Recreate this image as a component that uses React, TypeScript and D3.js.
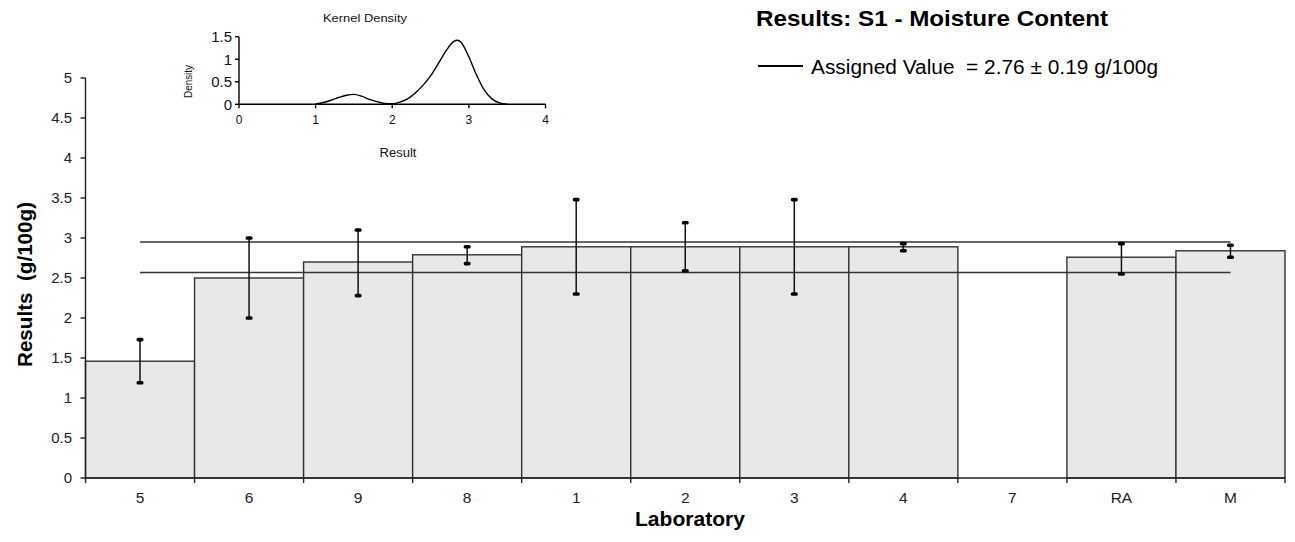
import React from "react";
import * as d3 from "d3";

const labs = ["5", "6", "9", "8", "1", "2", "3", "4", "7", "RA", "M"];
const results: (number | null)[] = [1.46, 2.5, 2.7, 2.79, 2.89, 2.89, 2.89, 2.89, null, 2.76, 2.84];
const errLow: (number | null)[] = [1.19, 2.0, 2.28, 2.68, 2.3, 2.59, 2.3, 2.84, null, 2.55, 2.76];
const errHigh: (number | null)[] = [1.73, 3.0, 3.1, 2.89, 3.48, 3.19, 3.48, 2.93, null, 2.93, 2.91];
const assignedValue = 2.76;
const uncertainty = 0.19;
const yTicks = [0, 0.5, 1, 1.5, 2, 2.5, 3, 3.5, 4, 4.5, 5];

const densityX = [1.0, 1.1, 1.2, 1.3, 1.4, 1.5, 1.6, 1.7, 1.8, 1.9, 2.0, 2.1, 2.2, 2.3, 2.4, 2.5, 2.6, 2.7, 2.8, 2.85, 2.9, 3.0, 3.1, 3.2, 3.3, 3.4, 3.5];
const densityY = [0.01, 0.04, 0.09, 0.15, 0.2, 0.22, 0.18, 0.11, 0.06, 0.02, 0.015, 0.05, 0.12, 0.25, 0.42, 0.63, 0.9, 1.18, 1.39, 1.42, 1.37, 1.05, 0.65, 0.32, 0.12, 0.03, 0.0];
const insetXTicks = [0, 1, 2, 3, 4];
const insetYTicks = [0, 0.5, 1, 1.5];

const FONT = "'Liberation Sans', Arial, sans-serif";

export default function App() {
  const W = 1295, H = 542;
  const x0 = 85.5, x1 = 1285;
  const y0 = 478, y1 = 78;
  const x = d3.scaleBand<string>().domain(labs).range([x0, x1]).paddingInner(0).paddingOuter(0);
  const y = d3.scaleLinear().domain([0, 5]).range([y0, y1]);
  const bw = x.bandwidth();

  // inset
  const ix = d3.scaleLinear().domain([0, 4]).range([239, 545.5]);
  const iy = d3.scaleLinear().domain([0, 1.5]).range([104.3, 36.7]);
  const pts = densityX.map((v, i) => [v, densityY[i]] as [number, number]);
  const densityPath = d3
    .line<[number, number]>()
    .x((d) => ix(d[0]))
    .y((d) => iy(d[1]))
    .curve(d3.curveMonotoneX)(pts) as string;

  const cx = (l: string) => (x(l) as number) + bw / 2;
  const lineStart = cx(labs[0]);
  const lineEnd = cx(labs[labs.length - 1]);

  const legendText =
    "Assigned Value\u00A0\u00A0= " + assignedValue.toFixed(2) + " \u00B1 " + uncertainty.toFixed(2) + " g/100g";

  return (
    <svg width={W} height={H} style={{ position: "absolute", left: 0, top: 0, background: "#fff" }} fontFamily={FONT}>
      <rect x={0} y={0} width={W} height={H} fill="#fff" />
      {/* bars */}
      {labs.map((l, i) =>
        results[i] == null ? null : (
          <rect key={"b" + l} x={x(l)} y={y(results[i] as number)} width={bw} height={y0 - y(results[i] as number)} fill="#e8e8e8" stroke="#333" strokeWidth={1.4} />
        )
      )}
      {/* assigned value +/- uncertainty lines */}
      {[assignedValue + uncertainty, assignedValue - uncertainty].map((v, i) => (
        <line key={"r" + i} x1={lineStart} x2={lineEnd} y1={y(v)} y2={y(v)} stroke="#333" strokeWidth={1.5} />
      ))}
      {/* error bars */}
      {labs.map((l, i) => {
        if (errLow[i] == null || errHigh[i] == null) return null;
        const c = cx(l);
        const yl = y(errLow[i] as number), yh = y(errHigh[i] as number);
        return (
          <g key={"e" + l}>
            <line x1={c} x2={c} y1={yh} y2={yl} stroke="#111" strokeWidth={1.5} />
            <rect x={c - 3.5} y={yh - 1.8} width={7} height={3.6} rx={1.6} fill="#000" />
            <rect x={c - 3.5} y={yl - 1.8} width={7} height={3.6} rx={1.6} fill="#000" />
          </g>
        );
      })}
      {/* axes */}
      <line x1={x0} x2={x0} y1={y1} y2={y0} stroke="#222" strokeWidth={1.4} />
      <line x1={x0} x2={x1} y1={y0} y2={y0} stroke="#222" strokeWidth={1.4} />
      {yTicks.map((t) => (
        <g key={"yt" + t}>
          <line x1={x0 - 5} x2={x0} y1={y(t)} y2={y(t)} stroke="#222" strokeWidth={1.4} />
          <text x={72} y={y(t)} dy="0.36em" textAnchor="end" fontSize={15} fill="#222">{t}</text>
        </g>
      ))}
      {labs.map((l) => (
        <line key={"xt" + l} x1={x(l)} x2={x(l)} y1={y0} y2={y0 + 5} stroke="#222" strokeWidth={1.4} />
      ))}
      <line x1={x1} x2={x1} y1={y0} y2={y0 + 5} stroke="#222" strokeWidth={1.4} />
      {labs.map((l) => (
        <text key={"xl" + l} x={cx(l)} y={502.5} textAnchor="middle" fontSize={15.5} fill="#222">{l}</text>
      ))}
      <text x={690} y={525.5} textAnchor="middle" fontSize={20} fontWeight="bold" fill="#000" textLength={110} lengthAdjust="spacingAndGlyphs">Laboratory</text>
      <text transform="translate(32,284.5) rotate(-90)" textAnchor="middle" fontSize={20.5} fontWeight="bold" fill="#000" textLength={165} lengthAdjust="spacingAndGlyphs">{"Results\u00A0 (g/100g)"}</text>

      {/* title & legend */}
      <text x={756} y={26} fontSize={22} fontWeight="bold" fill="#000" textLength={352} lengthAdjust="spacingAndGlyphs">Results: S1 - Moisture Content</text>
      <line x1={758} x2={803} y1={66} y2={66} stroke="#000" strokeWidth={2} />
      <text x={811} y={74} fontSize={19.5} fill="#000" textLength={347} lengthAdjust="spacingAndGlyphs">{legendText}</text>

      {/* inset kernel density */}
      <text x={365} y={21.5} textAnchor="middle" fontSize={11.5} fill="#111" textLength={84} lengthAdjust="spacingAndGlyphs">Kernel Density</text>
      <path d={densityPath} fill="none" stroke="#000" strokeWidth={1.4} />
      <line x1={ix(0)} x2={ix(4)} y1={iy(0)} y2={iy(0)} stroke="#000" strokeWidth={1.4} />
      <line x1={ix(0)} x2={ix(0)} y1={iy(0)} y2={iy(1.5)} stroke="#000" strokeWidth={1.4} />
      {insetXTicks.map((t) => (
        <g key={"ixt" + t}>
          <line x1={ix(t)} x2={ix(t)} y1={iy(0)} y2={iy(0) + 4} stroke="#000" strokeWidth={1.4} />
          <text x={ix(t)} y={123.5} textAnchor="middle" fontSize={12} fill="#111">{t}</text>
        </g>
      ))}
      {insetYTicks.map((t) => (
        <g key={"iyt" + t}>
          <line x1={ix(0) - 4} x2={ix(0)} y1={iy(t)} y2={iy(t)} stroke="#000" strokeWidth={1.4} />
          <text x={232} y={iy(t)} dy="0.36em" textAnchor="end" fontSize={15} fill="#111">{t}</text>
        </g>
      ))}
      <text x={398} y={156.5} textAnchor="middle" fontSize={12} fill="#111" textLength={37} lengthAdjust="spacingAndGlyphs">Result</text>
      <text transform="translate(192,81.5) rotate(-90)" textAnchor="middle" fontSize={11} fill="#111" textLength={33} lengthAdjust="spacingAndGlyphs">Density</text>
    </svg>
  );
}
